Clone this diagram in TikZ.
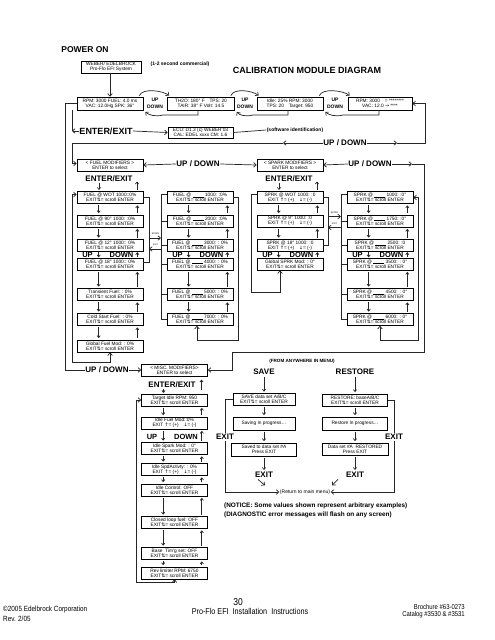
\documentclass[tikz,border=0pt]{standalone}
\usepackage{fontspec}
\setmainfont{Liberation Sans}
\newfontfamily\dvf{DejaVu Sans}
\newfontfamily\narrowf[FakeStretch=0.85]{Liberation Sans}
\usetikzlibrary{arrows.meta}
\newcommand\udsym{{\dvf\char"21C5}}
\newcommand\upsym{{\dvf\char"2191}}
\newcommand\dnsym{{\dvf\char"2193}}
\newcommand\rtsym{{\dvf\char"2192}}
\newcommand\exscroll{EXIT\udsym= scroll ENTER}
\newcommand\expm{EXIT \upsym= (+)\quad\dnsym = (-)}
\newcommand\fillbl{\rule[-0.2pt]{11pt}{0.3pt}}
\newcommand\boxpair[2]{%
  \draw[sa] ([xshift=22pt]#1.south west) -- ([xshift=22pt]#2.north west);
  \draw[sa] ([xshift=-6pt]#2.north east) -- ([xshift=-6pt]#1.south east);}
\newcommand\boxpairt[2]{%
  \draw[sat] ([xshift=22pt]#1.south west) -- ([xshift=22pt]#2.north west);
  \draw[sat] ([xshift=-6pt]#2.north east) -- ([xshift=-6pt]#1.south east);}
\newcommand\udrow[2]{%
  \node[udr] at (#1+10.5,#2) {UP};
  \node[udr] at (#1+44.5,#2) {DOWN};}
\begin{document}
\begin{tikzpicture}[x=1pt,y=-1pt,
 lcd/.style={draw, line width=0.65pt, minimum width=66pt, minimum height=12pt, inner sep=0pt, align=center, font=\fontsize{4.8}{5.2}\selectfont},
 hd/.style={font=\bfseries\fontsize{8}{8}\selectfont, inner sep=0.5pt},
 udr/.style={font=\bfseries\fontsize{7.5}{7.5}\selectfont, inner sep=0pt},
 udl/.style={font=\bfseries\fontsize{5}{5}\selectfont, inner sep=0pt},
 sm/.style={font=\bfseries\fontsize{5}{6}\selectfont, inner sep=0.5pt},
 tn/.style={font=\fontsize{2.2}{2.5}\selectfont, inner sep=0pt},
 ln/.style={line width=0.7pt, draw=black!85},
 ar/.style={ln, -{Straight Barb[length=2.6pt,width=4.6pt]}},
 dar/.style={ln, {Straight Barb[length=2.6pt,width=4.6pt]}-{Straight Barb[length=2.6pt,width=4.6pt]}},
 sa/.style={ln, -{Straight Barb[length=2pt,width=3.2pt]}, shorten <=1.5pt, shorten >=1.5pt},
 sat/.style={ln, -{Straight Barb[length=2pt,width=3.2pt]}, shorten <=0.3pt, shorten >=0.3pt},
 ft/.style={font=\narrowf\fontsize{7.5}{9}\selectfont, inner sep=0pt}
]
\useasboundingbox (0,0) rectangle (495,640);
\fill[white] (0,0) rectangle (495,640);

% ---------- header ----------
\node[hd,font=\bfseries\fontsize{8.5}{9}\selectfont] (pon) at (85,50) {POWER ON};
\node[lcd,minimum width=60pt] (web) at (111,67) {WEBER/ EDELBROCK\\Pro-Flo EFI System};
\node[sm] (com) at (180,64) {(1-2 second commercial)};
\node[font=\bfseries\fontsize{9}{9}\selectfont] (cal) at (307,70) {CALIBRATION MODULE DIAGRAM};

% ---------- row 1 ----------
\node[lcd,minimum height=13pt] (b1) at (110,103.5) {RPM: 3000 FUEL: 4.0 ms\\VAC: 12.0Hg SPK: 36°};
\node[lcd,minimum height=13pt,minimum width=67pt] (b2) at (201,103.5) {TH2O: 180° F\quad TPS: 20\\TAIR: 38° F Volt: 14.5};
\node[lcd,minimum height=13pt] (b3) at (290,103.5) {Idle: 25\% RPM: 3000\\TPS: 20\quad Target: 950};
\node[lcd,minimum height=13pt,minimum width=64pt] (b4) at (380,103.5) {RPM: 3000\quad= ********\\VAC: 12.0 \rtsym{} ****};
\draw[ar] (b1.north |- web.south) -- (b1.north);

\foreach \l/\r/\c/\t in {b1/b2/155/198, b2/b3/245/288, b3/b4/335/379}{
  \node[udl] at (\c,100) {UP};
  \node[udl] at (\c,106.5) {DOWN};
  \draw[ar] ([xshift=-4pt,yshift=1pt]\l.north east) .. controls +(3,-8) and +(-6,-5) .. ([xshift=2pt,yshift=1pt]\r.north west);
  \draw[ar] (\t,110) -- (\t,115) -- (\c+8,115) .. controls (\c,117) and (\c-6,115) .. ([xshift=2pt,yshift=-1.5pt]\l.south east);
}

% ---------- ENTER/EXIT + ECU ----------
\node[font=\bfseries\fontsize{9}{9}\selectfont, inner sep=0.5pt] (ee0) at (106,131) {ENTER/EXIT};
\node[lcd,minimum height=11pt,minimum width=65pt] (ecu) at (200.5,132.5) {ECU: D1.3 (c) WEBER'03\\CAL: EDEL xxxx CM: 1.6};
\node[sm] (sw) at (295,130) {(software identification)};
\draw[ar] (ee0.east) -- (ecu.west);
\draw[ln] (ecu.east) -- (sw.west);
\draw[ar] (ee0.west) -- (72,131);
\draw[ln] (72,131) -- (72,110);

% ---------- UP/DOWN row 143 ----------
\node[hd] (ud1) at (345,143) {UP / DOWN};
\coordinate (ud1l) at (283,143);
\coordinate (ud1r) at (397,143);
\draw[ar] (ud1.west) -- (ud1l);
\draw[ar] (ud1.east) -- (ud1r);
\draw[ar] (ud1r) -- (425,143) -- (425,103.5) -- (b4.east);

% ---------- modifiers ----------
\node[lcd] (fm) at (110,165) {< FUEL MODIFIERS >\\ENTER to select};
\node[lcd] (smod) at (290,165) {< SPARK MODIFIERS >\\ENTER to select};
\draw[ar] (ud1l) -- (72,143) |- ([yshift=1.5pt]fm.west);
\node[hd] (ud2) at (198,164) {UP / DOWN};
\node[hd] (ud3) at (370,164) {UP / DOWN};
\draw[ar] (ud2.west) -- (fm.east);
\draw[ar] (ud2.east) -- (smod.west);
\draw[ar] (ud3.west) -- (smod.east);
\coordinate (ud3r) at (412,164);
\draw[ar] (ud3.east) -- (ud3r);

\node[hd] (ee1) at (109,179) {ENTER/EXIT};
\node[hd] (ee2) at (289,179) {ENTER/EXIT};

% ---------- column 1 (fuel) ----------
\node[lcd] (c1r1) at (110,197.5) {FUEL @ WOT 1000::0\%\\\exscroll};
\node[lcd] (c1r2) at (110,221) {FUEL @ 90° 1000: :0\%\\\exscroll};
\node[lcd] (c1r3) at (110,245.5) {FUEL @ 12° 1000:: 0\%\\\exscroll};
\node[lcd] (c1r4) at (110,264) {FUEL @ 18° 1000:: 0\%\\\exscroll};
\node[lcd] (c1r5) at (110,294.5) {Transient Fuel: : 0\%\\\exscroll};
\node[lcd] (c1r6) at (110,319.5) {Cold Start Fuel: : 0\%\\\exscroll};
\node[lcd] (c1r7) at (110,346) {Global Fuel Mod: : 0\%\\\exscroll};
\boxpair{c1r1}{c1r2}\boxpair{c1r2}{c1r3}\boxpairt{c1r3}{c1r4}
\boxpair{c1r4}{c1r5}\boxpair{c1r5}{c1r6}\boxpair{c1r6}{c1r7}
\udrow{77}{254.5}
\draw[sa] (99,181.5) -- (99,191.5);
\draw[sa] (137,191.5) -- (137,180);
\draw[dar] ([yshift=3pt]c1r1.west) -| (72,362) -| (c1r7.south);
\draw[ln] (c1r1.east) -- (149,197.5) |- ([yshift=2pt]c1r4.east);

% ---------- column 2 ----------
\node[lcd] (c2r1) at (200,197.5) {FUEL @ \fillbl{} 1000: :0\%\\\exscroll};
\node[lcd] (c2r2) at (200,221) {FUEL @ \fillbl{} 2000: :0\%\\\exscroll};
\node[lcd] (c2r3) at (200,245.5) {FUEL @ \fillbl{} 3000: : 0\%\\\exscroll};
\node[lcd] (c2r4) at (200,264) {FUEL @ \fillbl{} 4000: : 0\%\\\exscroll};
\node[lcd] (c2r5) at (200,294.5) {FUEL @ \fillbl{} 5000: : 0\%\\\exscroll};
\node[lcd] (c2r6) at (200,319.5) {FUEL @ \fillbl{} 7000: : 0\%\\\exscroll};
\boxpair{c2r1}{c2r2}\boxpair{c2r2}{c2r3}\boxpairt{c2r3}{c2r4}
\boxpair{c2r4}{c2r5}\boxpair{c2r5}{c2r6}
\udrow{167}{254.5}
\draw[ln] ([yshift=3pt]c2r1.west) -| (161,319.5) -- (c2r6.west);
\foreach \n in {c2r2,c2r3,c2r4,c2r5}{\draw[ln] (\n.west) -- (161,0 |- \n.west);}
\draw[ar] (c2r1.east) -- (238,197.5) -- (238,340) -- (197,340) -- ([xshift=-3pt]c2r6.south);

% between col1 and col2
\node[tn] (en1) at (155.5,233.5) {ENTER};
\node[tn] (ex1) at (155.5,245) {EXIT};
\coordinate (k1a) at (149,238); \coordinate (k1b) at (161,238);
\coordinate (k1c) at (161,249); \coordinate (k1d) at (149,249);
\draw[ar] (k1a) -- (k1b);
\draw[ar] (k1c) -- (k1d);

% ---------- column 3 (spark) ----------
\node[lcd] (c3r1) at (290,197.5) {SPRK @ WOT 1000: :0\\\expm};
\node[lcd] (c3r2) at (290,221) {SPRK @ 9° 1000: :0\\\expm};
\node[lcd] (c3r3) at (290,245.5) {SPRK @ 18° 1000: :0\\\expm};
\node[lcd] (c3r4) at (290,264) {Global SPRK Mod: : 0°\\\exscroll};
\boxpair{c3r1}{c3r2}\boxpair{c3r2}{c3r3}\boxpairt{c3r3}{c3r4}
\udrow{257}{254.5}
\draw[sa] (279,181.5) -- (279,191.5);
\draw[sa] (317,191.5) -- (317,180);
\draw[ar] ([yshift=3pt]c3r1.west) -| (251,292) -| ([xshift=-10pt]c3r4.south);
\draw[ln] (c3r1.east) -- (328,197.5) |- (c3r3.east);

% ---------- column 4 ----------
\node[lcd] (c4r1) at (380,197.5) {SPRK @ \fillbl{} 1000: :0°\\\exscroll};
\node[lcd] (c4r2) at (380,221) {SPRK @ \fillbl{} 1750: :0°\\\exscroll};
\node[lcd] (c4r3) at (380,245.5) {SPRK @ \fillbl{} 2500: :0\\\exscroll};
\node[lcd] (c4r4) at (380,264) {SPRK @ \fillbl{} 3500: : 0°\\\exscroll};
\node[lcd] (c4r5) at (380,294.5) {SPRK @ \fillbl{} 4500: : 0°\\\exscroll};
\node[lcd] (c4r6) at (380,319.5) {SPRK @ \fillbl{} 6000: : 0°\\\exscroll};
\boxpair{c4r1}{c4r2}\boxpair{c4r2}{c4r3}\boxpairt{c4r3}{c4r4}
\boxpair{c4r4}{c4r5}\boxpair{c4r5}{c4r6}
\udrow{347}{254.5}
\draw[ln] ([yshift=3pt]c4r1.west) -| (341,319.5) -- (c4r6.west);
\foreach \n in {c4r2,c4r3,c4r4,c4r5}{\draw[ln] (\n.west) -- (341,0 |- \n.west);}
\draw[dar] (c4r1.east) -- (418,197.5) -- (418,340) -- (380,340) -- (c4r6.south);

% between col3 and col4
\node[tn] (en2) at (334.5,212.5) {ENTER};
\node[tn] (ex2) at (334.5,223.5) {EXIT};
\coordinate (k2a) at (328,216.5); \coordinate (k2b) at (341,216.5);
\coordinate (k2c) at (341,227.5); \coordinate (k2d) at (328,227.5);
\draw[ar] (k2a) -- (k2b);
\draw[ar] (k2c) -- (k2d);

% ---------- MISC ----------
\node[lcd] (misc) at (174.5,370) {< MISC. MODIFIERS>\\ENTER to select};
\node[hd] (ud4) at (107,370) {UP / DOWN};
\draw[ln] (b1.west) -- (65,103.5) |- (ud4.west);
\draw[ar] (ud4.east) -- (misc.west);
\draw[ar] (ud3r) -- (424,164) -- (424,352) -- (232,352) -- (232,370) -- (misc.east);
\node[font=\bfseries\fontsize{4.6}{5}\selectfont] (any) at (302,361) {(FROM ANYWHERE IN MENU)};

\node[hd] (ee3) at (172,385) {ENTER/EXIT};
\node[lcd] (t1) at (174.5,400) {Target Idle RPM: 950\\\exscroll};
\node[lcd] (t2) at (174.5,423) {Idle Fuel Mod::0\%\\\expm};
\node[lcd] (t3) at (174.5,448.5) {Idle Spark Mod: : 0°\\\exscroll};
\node[lcd] (t4) at (174.5,469.5) {Idle SpdActivty: : 0\%\\\expm};
\node[lcd] (t5) at (174.5,490) {Idle Control: OFF\\\exscroll};
\node[lcd] (t6) at (174.5,522.5) {Closed loop fuel: OFF\\\exscroll};
\node[lcd] (t7) at (174.5,553.5) {Base\ \ Tim'g set: OFF\\\exscroll};
\node[lcd] (t8) at (174.5,573) {Rev limiter RPM: 6750\\\exscroll};
\boxpair{t1}{t2}\boxpair{t2}{t3}\boxpair{t3}{t4}\boxpair{t4}{t5}
\boxpair{t5}{t6}\boxpair{t6}{t7}\boxpair{t7}{t8}
\udrow{141.5}{437}
\draw[sa] (163.5,387.5) -- (163.5,394.5);
\draw[sa] (201.5,391) -- (201.5,378);
\draw[dar] (t1.west) -| (136,582) -| (t8.south);

% ---------- SAVE / RESTORE ----------
\node[hd] (save) at (264,372) {SAVE};
\node[hd] (rest) at (355,372) {RESTORE};
\node[lcd,minimum width=62pt] (sv1) at (264,399.5) {SAVE data set A/B/C\\\exscroll};
\node[lcd,minimum width=62pt,minimum height=13pt] (sv2) at (264,423.5) {Saving In progress…};
\node[lcd,minimum width=65pt,minimum height=13pt] (sv3) at (264,449.5) {Saved to data set \#A\\Press EXIT};
\node[hd] (svx) at (264,475) {EXIT};
\node[lcd,minimum width=65pt] (rs1) at (355,400) {RESTORE: baseA/B/C\\\exscroll};
\node[lcd,minimum width=65pt,minimum height=13pt] (rs2) at (355,423.5) {Restore In progress…};
\node[lcd,minimum width=66pt] (rs3) at (355,449) {Data set \#A\ \ RESTORED\\Press EXIT};
\node[hd] (rsx) at (355,475) {EXIT};
\foreach \a/\b in {save/sv1,sv1/sv2,sv2/sv3,sv3/svx,rest/rs1,rs1/rs2,rs2/rs3,rs3/rsx}{
  \draw[sa] (\a.south) -- (\b.north);}

\node[font=\fontsize{5}{6}\selectfont, inner sep=0.5pt] (ret) at (305,492) {(Return to main menu)};
\draw[ar] ([xshift=-6pt,yshift=-1pt]svx.south) -- ([xshift=1pt,yshift=-7pt]svx.south);
\draw[ar] ([xshift=-17pt,yshift=-1pt]rsx.south) -- ([xshift=-23pt,yshift=-7pt]rsx.south);

\node[hd,fill=white,inner sep=1pt] (svex) at (225,437) {EXIT};
\node[hd,fill=white,inner sep=1pt] (rsex) at (394,437) {EXIT};
\draw[ln] (sv1.west) -- (225,399.5) -- (svex.north);
\draw[ar] (svex.south) -- (225,492) -- (ret.west);
\draw[ln] (rs1.east) -- (394,400) -- (rsex.north);
\draw[ar] (rsex.south) -- (394,492) -- (ret.east);

\node[font=\bfseries\fontsize{6.4}{9}\selectfont, anchor=west, inner sep=0pt] (n1) at (224,506) {(NOTICE: Some values shown represent arbitrary examples)};
\node[font=\bfseries\fontsize{6.4}{9}\selectfont, anchor=west, inner sep=0pt] (n2) at (224,515) {(DIAGNOSTIC error messages will flash on any screen)};

% ---------- footer ----------
\node[ft, anchor=west] (f1) at (3,610) {©2005 Edelbrock Corporation};
\node[ft, anchor=west] (f2) at (3,618.5) {Rev. 2/05};
\node[font=\narrowf\fontsize{10}{10}\selectfont, inner sep=0pt] (f3) at (238,602) {30};
\node[font=\narrowf\fontsize{8.5}{9}\selectfont, inner sep=0pt] (f4) at (250,611) {Pro-Flo EFI\ \ Installation\ \ Instructions};
\node[font=\narrowf\fontsize{7}{8}\selectfont, inner sep=0pt, anchor=east] (f5) at (465,607) {Brochure \#63-0273};
\node[font=\narrowf\fontsize{7}{8}\selectfont, inner sep=0pt, anchor=east] (f6) at (465,614.5) {Catalog \#3530 \& \#3531};
\end{tikzpicture}
\end{document}
